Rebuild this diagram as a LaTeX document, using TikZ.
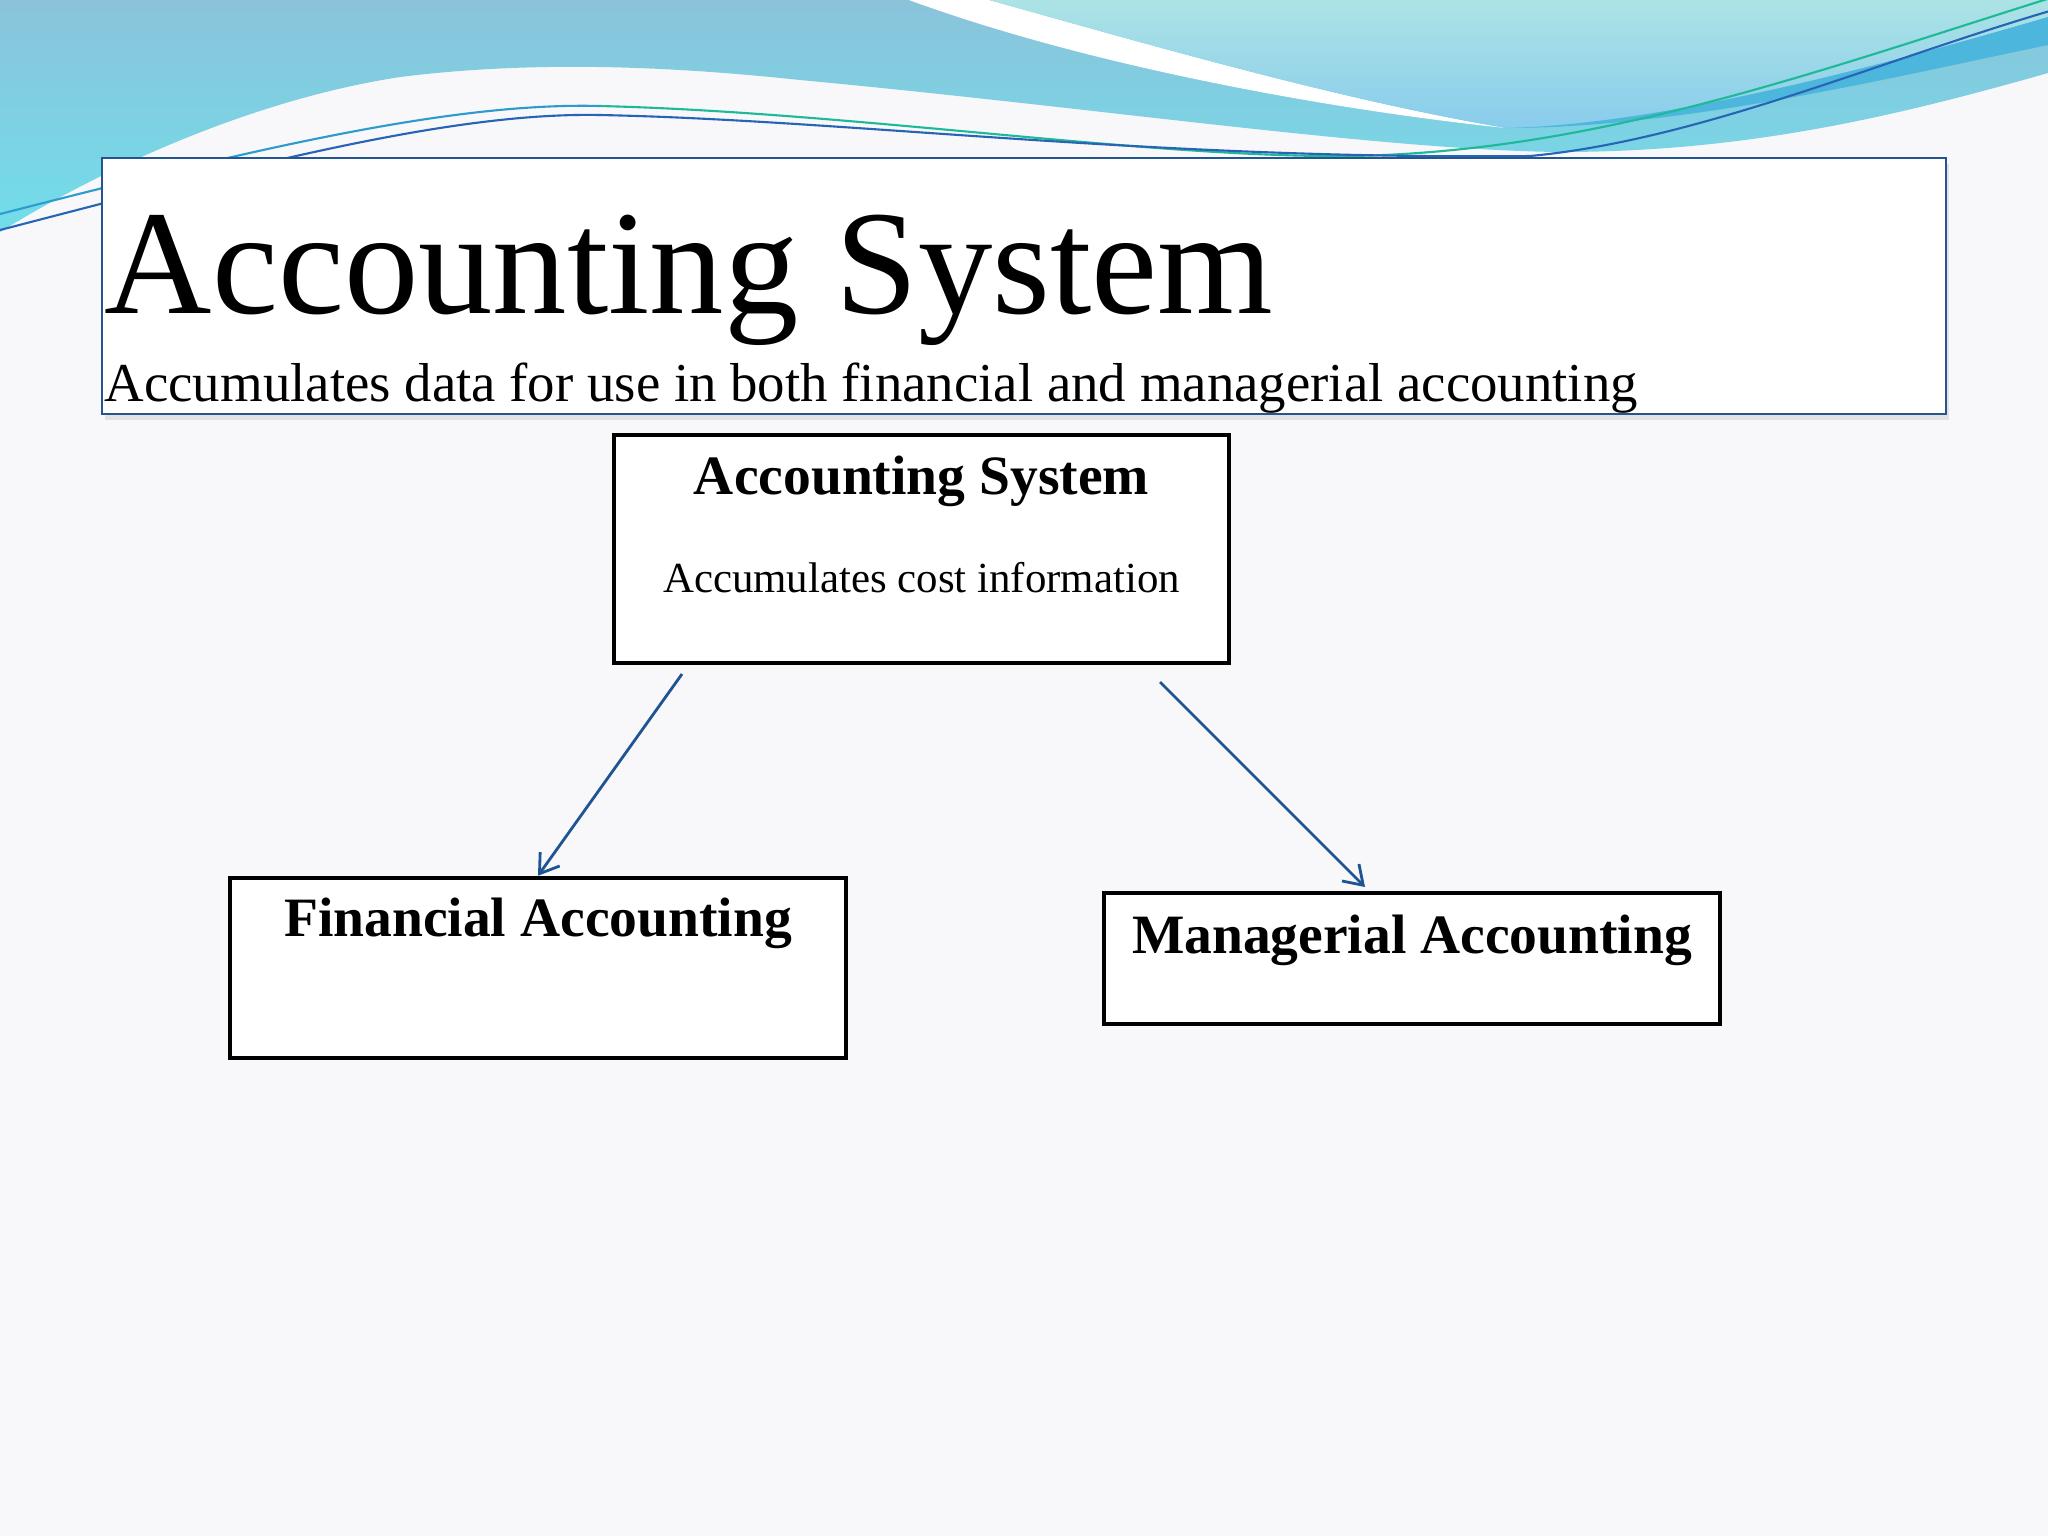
\documentclass[tikz,border=0pt]{standalone}
\usepackage{fontspec}
\setmainfont{Liberation Serif}
\usetikzlibrary{arrows.meta,shadows}

\definecolor{fundo}{RGB}{248,247,250}
\definecolor{ondaazul}{RGB}{139,195,219}
\definecolor{ondaciano}{RGB}{112,222,234}
\definecolor{ondaclara}{RGB}{172,227,229}
\definecolor{ondaceu}{RGB}{137,204,236}
\definecolor{faixa}{RGB}{77,182,220}
\definecolor{linhateal}{RGB}{46,155,205}
\definecolor{linhaazul}{RGB}{40,100,182}
\definecolor{linhaverde}{RGB}{30,185,150}
\definecolor{bordatitulo}{RGB}{36,85,143}
\definecolor{seta}{RGB}{31,84,148}

\begin{document}
\begin{tikzpicture}[x=0.1mm, y=-0.1mm,
  box/.style={draw=black, line width=1.3pt, fill=white, inner sep=0pt},
  boxtitle/.style={anchor=base, inner sep=0pt, font=\fontsize{15.8pt}{19pt}\selectfont\bfseries},
  boxtext/.style={anchor=base, inner sep=0pt, font=\fontsize{12.2pt}{15pt}\selectfont},
  link/.style={draw=seta, line width=0.8pt, -{Straight Barb[length=1.8mm, width=2.4mm]}},
  wire/.style={line width=0.6pt}]

    \useasboundingbox (0,0) rectangle (2048,1536);
    \fill[fundo] (0,0) rectangle (2048,1536);

    % Ondas do topo
    \shade[top color=ondaazul, bottom color=ondaciano] (0,0) -- (2048,0) -- (2048,73)
        .. controls (1900,115) and (1750,152) .. (1560,152)
        .. controls (1380,150) and (1100,108) .. (800,80)
        .. controls (650,64) and (520,62) .. (400,77)
        .. controls (250,100) and (100,170) .. (0,232) -- cycle;
    \fill[white] (909,0) .. controls (1100,70) and (1350,112) .. (1506,128)
        .. controls (1340,100) and (1150,45) .. (989,0) -- cycle;
    \shade[top color=ondaclara, bottom color=ondaceu] (989,0)
        .. controls (1150,45) and (1340,100) .. (1506,128)
        .. controls (1650,125) and (1850,75) .. (2048,17) -- (2048,0) -- cycle;
    \fill[faixa] (1506,128) .. controls (1650,125) and (1850,75) .. (2048,17) -- (2048,45)
        .. controls (1880,80) and (1680,128) .. (1506,128) -- cycle;

    % Linhas finas
    \draw[wire, linhateal] (0,214) .. controls (250,150) and (450,102) .. (600,106);
    \draw[wire, linhaverde] (600,106) .. controls (850,112) and (1150,158) .. (1350,156)
        .. controls (1600,152) and (1820,70) .. (2060,-5);
    \draw[wire, linhaazul] (0,230) .. controls (250,165) and (450,112) .. (600,115)
        .. controls (850,120) and (1150,160) .. (1530,156)
        .. controls (1700,140) and (1880,60) .. (2060,8);

    % Caixa do título
    \node[draw=bordatitulo, line width=0.6pt, fill=white, minimum width=184.4mm, minimum height=25.6mm,
        drop shadow={shadow xshift=0.3mm, shadow yshift=-0.6mm, opacity=0.18}] (cabec) at (1024,286) {};
    \node[anchor=base west, inner sep=0pt, font=\fontsize{42.3pt}{50pt}\selectfont] (titulo) at (104,313) {Accounting System};
    \node[anchor=base west, inner sep=0pt, font=\fontsize{15.6pt}{19pt}\selectfont] (subtitulo) at (104,401)
        {Accumulates data for use in both financial and managerial accounting};

    % Sistema contábil
    \node[box, minimum width=61.5mm, minimum height=22.8mm] (sistema) at (921.5,549) {};
    \node[boxtitle] (sistema-tit) at (921.5,494) {Accounting System};
    \node[boxtext] (sistema-txt) at (921.5,592) {Accumulates cost information};

    % Contabilidade financeira e gerencial
    \node[box, minimum width=61.6mm, minimum height=18mm] (financeira) at (538,968) {};
    \node[boxtitle] (financeira-tit) at (538,936) {Financial Accounting};
    \node[box, minimum width=61.6mm, minimum height=13.1mm] (gerencial) at (1412,958.5) {};
    \node[boxtitle] (gerencial-tit) at (1412,953) {Managerial Accounting};

    % Setas
    \coordinate (saida-esq) at (682,674);
    \coordinate (saida-dir) at (1160,682);
    \coordinate (entrada-dir) at (1365,887);
    \draw[link] (saida-esq) -- (financeira.north);
    \draw[link] (saida-dir) -- (entrada-dir);

\end{tikzpicture}
\end{document}
